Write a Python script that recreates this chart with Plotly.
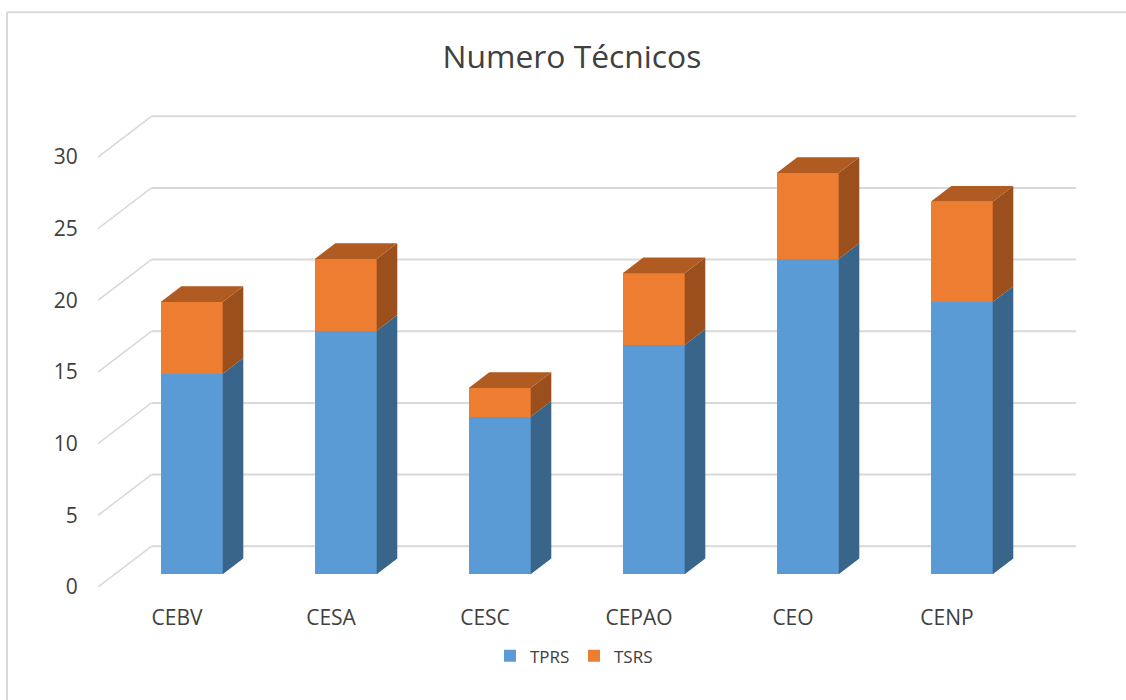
import plotly.graph_objects as go

categories = ["CEBV", "CESA", "CESC", "CEPAO", "CEO", "CENP"]
tprs = [14, 17, 11, 16, 22, 19]
tsrs = [5, 5, 2, 5, 6, 7]
y_ticks = [0, 5, 10, 15, 20, 25, 30]
title_text = "Numero Técnicos"

W, H = 1126, 700
PX_X = 154.0      # px per category
PX_Y = 14.33      # px per value unit
FRONT_L, BACK_R = 98.0, 1076.0
FRONT_BASE = 586.7
TOP_PAD = 33.0
FONT = "Open Sans, sans-serif"
TXT = "#404040"
GRID = "#D9D9D9"

x0 = -(177.0 - FRONT_L) / PX_X
x1 = x0 + (BACK_R - FRONT_L) / PX_X
plot_top = FRONT_BASE - TOP_PAD * PX_Y

# oblique projection offsets, in axis units
grid_dx, grid_dy = 53.4 / PX_X, 40.7 / PX_Y
bar_off_x, bar_off_y = 14.7 / PX_X, 12.7 / PX_Y
depth_x, depth_y = 20.6 / PX_X, 15.7 / PX_Y
half_w = 31.0 / PX_X


def faces(lows, highs):
    xs, ys = [], []
    for i, (lo, hi) in enumerate(zip(lows, highs)):
        r = i + bar_off_x + half_w
        b0, b1 = lo + bar_off_y, hi + bar_off_y
        xs += [r, r + depth_x, r + depth_x, r, r, None]
        ys += [b0, b0 + depth_y, b1 + depth_y, b1, b0, None]
    return xs, ys


def tops(values):
    xs, ys = [], []
    for i, v in enumerate(values):
        l = i + bar_off_x - half_w
        r = i + bar_off_x + half_w
        t = v + bar_off_y
        xs += [l, r, r + depth_x, l + depth_x, l, None]
        ys += [t, t, t + depth_y, t + depth_y, t, None]
    return xs, ys


totals = [a + b for a, b in zip(tprs, tsrs)]
zeros = [0] * len(tprs)
bar_x = [i + bar_off_x for i in range(len(categories))]

fig = go.Figure()
fig.add_bar(name="TPRS", x=bar_x, y=tprs, base=[bar_off_y] * len(tprs),
            width=2 * half_w, marker=dict(color="#5B9BD5", line=dict(width=0)))
fig.add_bar(name="TSRS", x=bar_x, y=tsrs, base=[a + bar_off_y for a in tprs],
            width=2 * half_w, marker=dict(color="#ED7D31", line=dict(width=0)))

for lows, highs, col in [(zeros, tprs, "#39658A"), (tprs, totals, "#9A4F1C")]:
    xs, ys = faces(lows, highs)
    fig.add_scatter(x=xs, y=ys, mode="lines", fill="toself", fillcolor=col,
                    line=dict(width=0, color=col), showlegend=False, hoverinfo="skip")
xs, ys = tops(totals)
fig.add_scatter(x=xs, y=ys, mode="lines", fill="toself", fillcolor="#B05B22",
                line=dict(width=0, color="#B05B22"), showlegend=False, hoverinfo="skip")

shapes = []
for v in y_ticks:
    shapes.append(dict(type="line", xref="x", yref="y", layer="below",
                       x0=x0, y0=v, x1=x0 + grid_dx, y1=v + grid_dy,
                       line=dict(color=GRID, width=1.6)))
    shapes.append(dict(type="line", xref="x", yref="y", layer="below",
                       x0=x0 + grid_dx, y0=v + grid_dy, x1=x1, y1=v + grid_dy,
                       line=dict(color=GRID, width=2)))
# chart frame: left and top edges
span_x = BACK_R - FRONT_L
span_y = FRONT_BASE - plot_top
frame_l = (7 - FRONT_L) / span_x
frame_r = (W - FRONT_L) / span_x
frame_t = (FRONT_BASE - 12) / span_y
frame_b = (FRONT_BASE - H) / span_y
shapes.append(dict(type="line", xref="paper", yref="paper", x0=frame_l, x1=frame_r,
                   y0=frame_t, y1=frame_t, line=dict(color=GRID, width=2)))
shapes.append(dict(type="line", xref="paper", yref="paper", x0=frame_l, x1=frame_l,
                   y0=frame_t, y1=frame_b, line=dict(color=GRID, width=2)))

fig.update_layout(
    width=W, height=H,
    margin=dict(l=FRONT_L, r=W - BACK_R, t=plot_top, b=H - FRONT_BASE,
                pad=0, autoexpand=False),
    paper_bgcolor="white", plot_bgcolor="rgba(0,0,0,0)",
    barmode="overlay", bargap=0,
    title=dict(text=title_text, x=572 / W, xref="container", xanchor="center",
               y=1 - 57 / H, yref="container", yanchor="middle",
               font=dict(family=FONT, size=31.8, color=TXT)),
    font=dict(family=FONT, color=TXT),
    xaxis=dict(range=[x0, x1], tickmode="array", tickvals=list(range(len(categories))),
               ticktext=categories, showgrid=False, zeroline=False, showline=False,
               ticks="outside", ticklen=12, tickcolor="rgba(0,0,0,0)",
               tickfont=dict(family=FONT, size=21, color=TXT)),
    yaxis=dict(range=[0, TOP_PAD], tickmode="array", tickvals=y_ticks,
               showgrid=False, zeroline=False, showline=False,
               ticks="outside", ticklen=15, tickcolor="rgba(0,0,0,0)",
               tickfont=dict(family=FONT, size=21, color=TXT)),
    legend=dict(orientation="h", xanchor="left", yanchor="middle",
                x=(490 - FRONT_L) / span_x,
                y=(FRONT_BASE - 656) / span_y,
                font=dict(family=FONT, size=17, color=TXT),
                entrywidth=39, entrywidthmode="pixels", traceorder="normal",
                bgcolor="rgba(0,0,0,0)"),
    shapes=shapes,
    showlegend=True,
)

fig.write_html("out.html", config={"displayModeBar": False},
               post_script="document.body.style.margin='0';")
